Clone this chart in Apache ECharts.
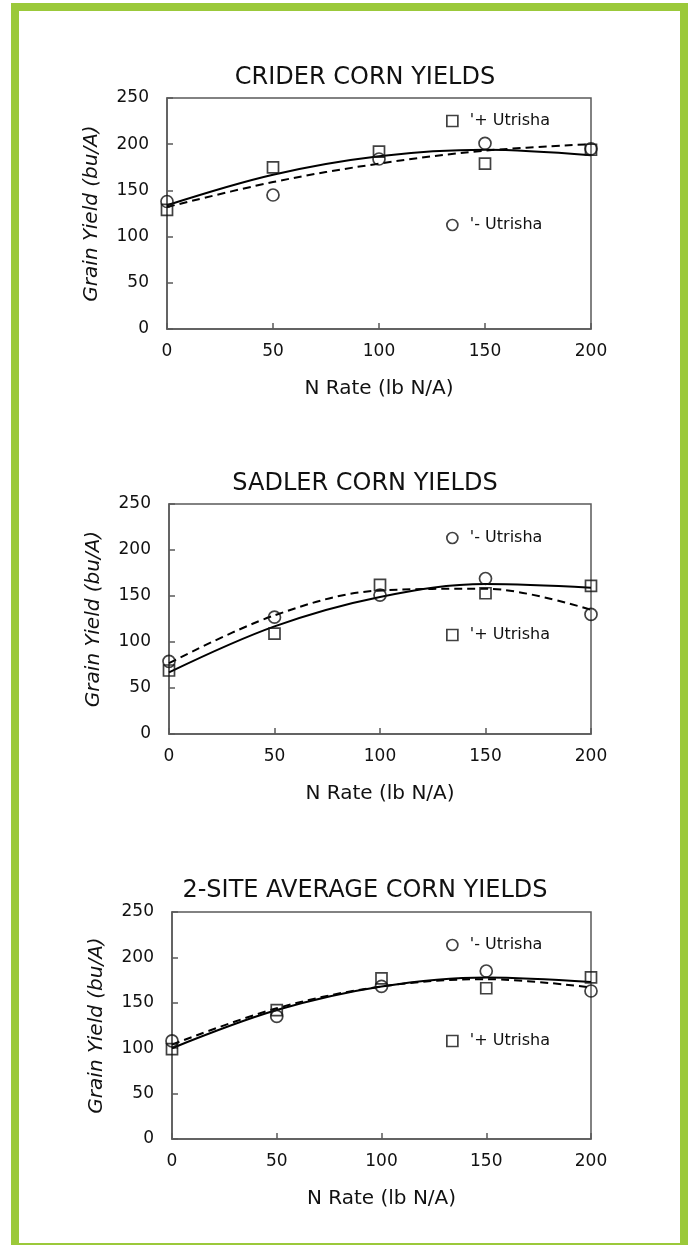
<!DOCTYPE html>
<html>
<head>
<meta charset="utf-8">
<script src="https://cdn.jsdelivr.net/npm/echarts@6/dist/echarts.min.js"></script>
<style>
  html, body { margin: 0; padding: 0; background: #ffffff; }
  #chart { width: 689px; height: 1245px; }
</style>
</head>
<body>
<div id="chart"></div>
<script>
// ---- data ----
const nRates = [0, 50, 100, 150, 200];
const xTicks = [0, 50, 100, 150, 200];
const yTicks = [0, 50, 100, 150, 200, 250];

const titles = ['CRIDER CORN YIELDS', 'SADLER CORN YIELDS', '2-SITE AVERAGE CORN YIELDS'];
const plusName = "'+ Utrisha";
const minusName = "'- Utrisha";

const criderPlus = [129, 175, 192, 179, 194];
const criderMinus = [138, 145, 184, 201, 195];
const criderPlusTrend = [134, 167, 187, 194, 188];
const criderMinusTrend = [132, 159, 179, 193, 200];

const sadlerPlus = [69, 109, 162, 153, 161];
const sadlerMinus = [79, 127, 151, 169, 130];
const sadlerPlusTrend = [67, 117, 149, 163, 159];
const sadlerMinusTrend = [77, 129, 156, 158, 135];

const avgPlus = [99, 142, 177, 166, 178];
const avgMinus = [108, 135, 168, 185, 163];
const avgPlusTrend = [100, 142, 168, 178, 173];
const avgMinusTrend = [104, 144, 168, 176, 167];

// ---- layout ----
const FONT = '"DejaVu Sans", "Liberation Sans", sans-serif';
const panels = [
  { grid: { left: 167, top: 98, width: 424, height: 231 }, titleY: 78,
    plus: criderPlus, minus: criderMinus, plusT: criderPlusTrend, minusT: criderMinusTrend,
    plusLegendY: 123, minusLegendY: 227 },
  { grid: { left: 169, top: 504, width: 422, height: 230 }, titleY: 484,
    plus: sadlerPlus, minus: sadlerMinus, plusT: sadlerPlusTrend, minusT: sadlerMinusTrend,
    plusLegendY: 637, minusLegendY: 540 },
  { grid: { left: 172, top: 912, width: 419, height: 227 }, titleY: 891,
    plus: avgPlus, minus: avgMinus, plusT: avgPlusTrend, minusT: avgMinusTrend,
    plusLegendY: 1043, minusLegendY: 947 }
];

const pairs = (xs, ys) => xs.map((x, i) => [x, ys[i]]);

const grids = [], xAxes = [], yAxes = [], series = [], legends = [], graphics = [];

graphics.push({
  type: 'rect', z: 100, silent: true,
  shape: { x: 15, y: 7, width: 669, height: 1240 },
  style: { fill: 'none', stroke: '#9BC93A', lineWidth: 8 }
});

panels.forEach((p, i) => {
  grids.push(Object.assign({ show: true, borderColor: '#5a5a5a', borderWidth: 1.5, backgroundColor: '#fff' }, p.grid));
  xAxes.push({
    type: 'value', gridIndex: i, min: xTicks[0], max: xTicks[xTicks.length - 1], interval: 50,
    name: 'N Rate (lb N/A)', nameLocation: 'middle', nameGap: 50,
    nameTextStyle: { fontFamily: FONT, fontSize: 20, color: '#111' },
    axisLine: { show: true, lineStyle: { color: '#5a5a5a', width: 1.5 } },
    axisTick: { show: true, inside: true, length: 6, lineStyle: { color: '#5a5a5a', width: 1.5 } },
    axisLabel: { margin: 14, fontFamily: FONT, fontSize: 17, color: '#111' },
    splitLine: { show: false }
  });
  yAxes.push({
    type: 'value', gridIndex: i, min: yTicks[0], max: yTicks[yTicks.length - 1], interval: 50,
    name: 'Grain Yield (bu/A)', nameLocation: 'middle', nameGap: 65,
    nameTextStyle: { fontFamily: FONT, fontSize: 20, fontStyle: 'italic', color: '#111' },
    axisLine: { show: true, lineStyle: { color: '#5a5a5a', width: 1.5 } },
    axisTick: { show: true, inside: true, length: 6, lineStyle: { color: '#5a5a5a', width: 1.5 } },
    axisLabel: { margin: 18, fontFamily: FONT, fontSize: 17, color: '#111' },
    splitLine: { show: false }
  });
  graphics.push({
    type: 'text', x: 365, y: p.titleY,
    style: { text: titles[i], font: '24px ' + FONT, fill: '#111', textAlign: 'center', textVerticalAlign: 'middle' }
  });
  series.push({
    type: 'line', name: 'trend+' + i, xAxisIndex: i, yAxisIndex: i,
    data: pairs(nRates, p.plusT), smooth: 0.35, showSymbol: false, symbol: 'none',
    lineStyle: { color: '#000', width: 2 }, z: 3, silent: true
  });
  series.push({
    type: 'line', name: 'trend-' + i, xAxisIndex: i, yAxisIndex: i,
    data: pairs(nRates, p.minusT), smooth: 0.35, showSymbol: false, symbol: 'none',
    lineStyle: { color: '#000', width: 2, type: [8, 5] }, z: 3, silent: true
  });
  series.push({
    type: 'scatter', name: plusName, xAxisIndex: i, yAxisIndex: i,
    data: pairs(nRates, p.plus), symbol: 'rect', symbolSize: 11,
    itemStyle: { color: 'rgba(255,255,255,0)', borderColor: '#111', borderWidth: 1.7 }, z: 4
  });
  series.push({
    type: 'scatter', name: minusName, xAxisIndex: i, yAxisIndex: i,
    data: pairs(nRates, p.minus), symbol: 'circle', symbolSize: 12,
    itemStyle: { color: 'rgba(255,255,255,0)', borderColor: '#111', borderWidth: 1.7 }, z: 4
  });
  [[plusName, p.plusLegendY], [minusName, p.minusLegendY]].forEach(([nm, cy]) => {
    legends.push({
      data: [nm], left: 446, top: cy - 10, padding: 0, itemWidth: 11, itemHeight: 11,
      selectedMode: false,
      itemStyle: { color: '#fff', borderColor: '#111', borderWidth: 1.7 },
      textStyle: { fontFamily: FONT, fontSize: 16, color: '#111', padding: [0, 0, 0, 7] }
    });
  });
});

const chart = echarts.init(document.getElementById('chart'), null, { renderer: 'canvas' });
chart.setOption({
  backgroundColor: '#ffffff',
  animation: false,
  grid: grids, xAxis: xAxes, yAxis: yAxes, series: series, legend: legends, graphic: graphics
});
</script>
</body>
</html>
